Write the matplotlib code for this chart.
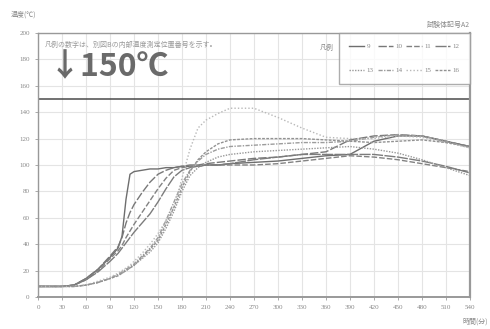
import matplotlib
matplotlib.use("Agg")
import matplotlib.pyplot as plt
from matplotlib.lines import Line2D

plt.rcParams['font.family'] = ['Liberation Serif', 'Noto Sans CJK JP', 'DejaVu Sans']

t = [0, 30, 45, 60, 75, 90, 100, 105, 110, 115, 120, 130, 140, 150, 160, 170, 180, 190,
     200, 210, 225, 240, 270, 300, 330, 360, 390, 420, 450, 480, 510, 540]

s9 = [8, 8, 9, 14, 21, 30, 37, 46, 74, 93, 95, 96, 97, 97, 98, 98, 99, 99,
      99, 100, 100, 101, 102, 103, 105, 107, 108, 118, 122, 122, 118, 114]
s10 = [8, 8, 9, 14, 21, 31, 38, 45, 56, 64, 70, 79, 87, 93, 96, 98, 99, 100,
       100, 101, 102, 103, 105, 106, 108, 110, 119, 122, 123, 122, 118, 114]
s11 = [8, 8, 9, 13, 20, 29, 35, 39, 45, 50, 55, 64, 73, 82, 90, 96, 98, 99,
       99, 100, 100, 100, 100, 101, 103, 105, 107, 106, 104, 101, 98, 95]
s12 = [8, 8, 9, 13, 19, 27, 33, 37, 41, 45, 49, 56, 63, 72, 82, 91, 96, 98,
       99, 100, 100, 101, 104, 106, 108, 108, 108, 108, 106, 103, 99, 94]
s13 = [8, 8, 8, 9, 11, 14, 17, 18, 20, 22, 24, 29, 34, 41, 52, 65, 80, 92,
       98, 102, 106, 108, 110, 111, 112, 113, 114, 112, 109, 104, 98, 92]
s14 = [8, 8, 8, 9, 11, 14, 17, 19, 21, 23, 25, 31, 37, 45, 58, 72, 86, 96,
       103, 108, 112, 114, 115, 116, 117, 117, 118, 121, 123, 122, 118, 113]
s15 = [8, 8, 8, 9, 12, 15, 18, 20, 22, 24, 27, 33, 40, 48, 58, 68, 90, 112,
       128, 134, 139, 143, 143, 136, 128, 121, 120, 120, 122, 121, 117, 113]
s16 = [8, 8, 8, 9, 11, 14, 16, 18, 20, 22, 24, 30, 36, 43, 55, 68, 83, 95,
       104, 110, 116, 119, 120, 120, 120, 119, 118, 117, 118, 119, 117, 114]

series = [s9, s10, s11, s12, s13, s14, s15, s16]
labels = ['9', '10', '11', '12', '13', '14', '15', '16']
styles = ['-', (0, (6, 1.5)), (0, (4, 1.5)), (0, (8, 1)), (0, (1, 1)), (0, (3, 1, 1, 1)),
          (0, (1, 1.5)), (0, (2, 1))]
colors = ['#6e6e6e', '#787878', '#828282', '#7c7c7c', '#989898', '#9c9c9c', '#b8b8b8', '#929292']

xticks = list(range(0, 541, 30))
yticks = list(range(0, 201, 20))

fig = plt.figure(figsize=(4.9, 3.29), dpi=100)
ax = fig.add_axes([0.0776, 0.0973, 0.8814, 0.8024])

for s, lab, ls, c in zip(series, labels, styles, colors):
    ax.plot(t, s, ls=ls, color=c, lw=1.0, label=lab)

ax.axhline(150, color='#4a4a4a', lw=1.1)

ax.set_xlim(0, 540)
ax.set_ylim(0, 200)
ax.set_xticks(xticks)
ax.set_yticks(yticks)
ax.grid(True, color='#e4e4e4', lw=0.8)
ax.tick_params(labelsize=5, colors='#888888', length=2, width=0.5, pad=4)
for sp in ax.spines.values():
    sp.set_color('#999999')
    sp.set_linewidth(1.0)
ax.spines['right'].set_linewidth(1.6)
ax.spines['bottom'].set_linewidth(1.4)

jp = ['Noto Sans CJK JP', 'DejaVu Sans']
fig.text(0.022, 0.955, '温度(℃)', fontsize=5, color='#888888', family=jp, va='center')
fig.text(0.958, 0.925, '試験体記号A2', fontsize=5, color='#888888', family=jp, va='center', ha='right')
fig.text(0.995, 0.022, '時間(分)', fontsize=5, color='#888888', family=jp, va='center', ha='right')
ax.text(0.016, 0.97, '凡例の数字は、別図Bの内部温度測定位置番号を示す。', transform=ax.transAxes,
        fontsize=5, color='#999999', family=jp, va='top')
ax.text(0.025, 0.872, '↓150℃', transform=ax.transAxes, fontsize=23, fontweight='bold',
        color='#6a6a6a', family=jp, va='center')

order = [0, 4, 1, 5, 2, 6, 3, 7]
handles = [Line2D([0], [0], ls=styles[i], color=colors[i], lw=1.0) for i in order]
leg = ax.legend(handles, [labels[i] for i in order], ncol=4, loc='upper right', fontsize=5,
                frameon=True, fancybox=False, edgecolor='#999999', handlelength=2.2,
                handletextpad=0.35, columnspacing=0.55, borderpad=1.5, labelspacing=2.6,
                bbox_to_anchor=(1.0, 1.0), borderaxespad=0)
leg.get_frame().set_linewidth(1.0)
for txt in leg.get_texts():
    txt.set_color('#888888')
ax.text(0.652, 0.943, '凡例', transform=ax.transAxes, fontsize=5, color='#888888', family=jp,
        va='center')

fig.savefig('out.png', dpi=100)
